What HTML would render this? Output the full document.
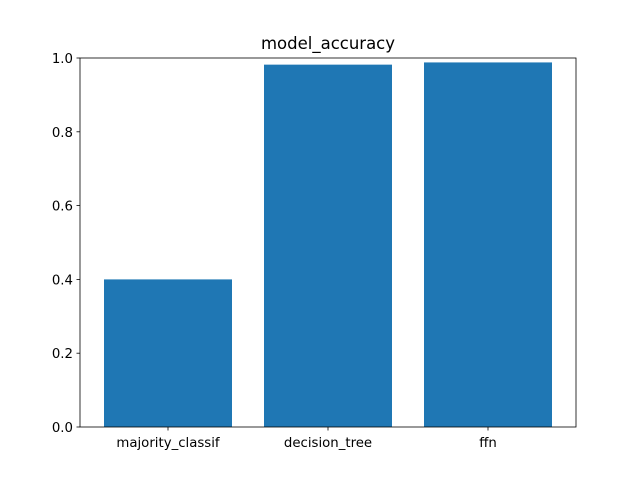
<!DOCTYPE html>
<html><head><meta charset="utf-8"><style>body{margin:0;background:#fff}svg{display:block}text{font-family:"DejaVu Sans","Liberation Sans",sans-serif;fill:#000}</style></head>
<body>
<svg id="chart" width="640" height="480" xmlns="http://www.w3.org/2000/svg">
<rect width="640" height="480" fill="#fff"/>
<text x="328" y="49" text-anchor="middle" font-size="16.5">model_accuracy</text>
<g id="plot"></g>
</svg>
<script>
const categories = ["majority_classif", "decision_tree", "ffn"];
const values = [0.40, 0.982, 0.988];
const yTicks = [0, 0.2, 0.4, 0.6, 0.8, 1.0];
const yTickLabels = ["0.0", "0.2", "0.4", "0.6", "0.8", "1.0"];
const L = 80, R = 576, T = 58, B = 427;
const x = i => L + (i + 0.55) / 3.1 * (R - L);
const y = v => B - v * (B - T);
const ns = "http://www.w3.org/2000/svg";
const g = document.getElementById("plot");
function mk(tag, attrs) { const e = document.createElementNS(ns, tag); for (const k in attrs) e.setAttribute(k, attrs[k]); g.appendChild(e); return e; }
const bw = 0.8 / 3.1 * (R - L);
values.forEach((v, i) => {
  const r = mk("rect", { x: x(i) - bw / 2, y: y(v), width: bw, height: B - y(v), fill: "#1f77b4" });
  
  
});
const ax = mk("rect", { x: L, y: T, width: R - L, height: B - T, fill: "none", stroke: "#000", "stroke-width": 0.8 });


yTicks.forEach((t, i) => {
  const ln = mk("line", { x1: L - 3.5, x2: L, y1: y(t), y2: y(t), stroke: "#000", "stroke-width": 0.8 });
  
  
  const tx = mk("text", { x: L - 7, y: y(t) + 5, "text-anchor": "end", "font-size": 13.3 });
  tx.textContent = yTickLabels[i];
  
  
});
categories.forEach((c, i) => {
  const ln = mk("line", { x1: x(i), x2: x(i), y1: B, y2: B + 3.5, stroke: "#000", "stroke-width": 0.8 });
  
  
  const tx = mk("text", { x: x(i), y: B + 20, "text-anchor": "middle", "font-size": 13.3 });
  tx.textContent = c;
  
  
});
</script>
</body></html>
